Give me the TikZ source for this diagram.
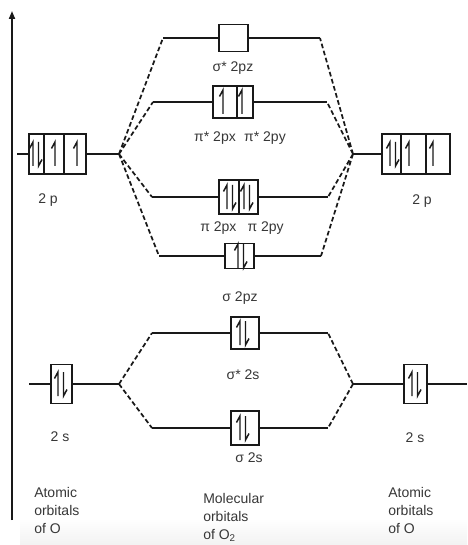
\documentclass[tikz,border=0pt]{standalone}
\usepackage{fontspec}
\setmainfont{Liberation Sans}
\usetikzlibrary{arrows.meta}
\definecolor{ink}{RGB}{25,25,25}
\definecolor{txt}{RGB}{55,55,55}
\begin{document}
\begin{tikzpicture}[x=0.75pt,y=-0.75pt,
 ln/.style={draw=ink,line width=1.3pt},
 dl/.style={draw=ink,line width=1.3pt,dash pattern=on 3.5pt off 2pt},
 obox/.style={draw=ink,line width=1.3pt,rectangle,inner sep=0pt,outer sep=0pt},
 bx/.style n args={2}{minimum width=#1*0.75pt,minimum height=#2*0.75pt},
 lab/.style={text=txt,font=\fontsize{10.5}{13}\selectfont,inner sep=0pt},
 eup/.pic={\draw[ink,line width=1.1pt] (0,12)--(0,-12)--(-3.5,-5.5);},
 edn/.pic={\draw[ink,line width=1.1pt] (0,-12)--(0,12)--(3.5,5.5);},
]
\useasboundingbox (0,0) rectangle (467,545);
\fill[white] (0,0) rectangle (467,545);
\shade[top color=white,bottom color=gray!10] (20,518) rectangle (467,545);

% axis
\coordinate (ax0) at (12,520);
\coordinate (ax1) at (12,11);
\draw[ink,line width=1.3pt,-{Triangle[length=6pt,width=4.5pt]}] (ax0) -- (ax1);

% junctions
\coordinate (Lj) at (119,154);
\coordinate (Rj) at (353,154);
\coordinate (Ls) at (119,384);
\coordinate (Rs) at (353,384);

% level end points
\coordinate (a1l) at (163,38);  \coordinate (a1r) at (320,38);
\coordinate (a2l) at (153,102); \coordinate (a2r) at (327,102);
\coordinate (a3l) at (152,197); \coordinate (a3r) at (328,197);
\coordinate (a4l) at (159,256); \coordinate (a4r) at (321,256);
\coordinate (b1l) at (152,333); \coordinate (b1r) at (328,333);
\coordinate (b2l) at (152,428); \coordinate (b2r) at (328,428);
\coordinate (Lst) at (17,154);
\coordinate (Lss) at (29,384);
\coordinate (Rse) at (467,384);

% boxes
\node[obox,bx={57}{40}] (L2p) at (57.5,154) {};
\node[obox,bx={68}{40}] (R2p) at (416,154) {};
\node[obox,bx={29}{27}] (SPZs) at (233.5,38) {};
\node[obox,bx={40}{32}] (PIs) at (233,102) {};
\node[obox,bx={39}{34}] (PI) at (238.5,197) {};
\node[obox,bx={29}{25}] (SPZ) at (239.5,256) {};
\node[obox,bx={28}{32}] (SSs) at (245,333) {};
\node[obox,bx={28}{34}] (SS) at (245,428) {};
\node[obox,bx={21}{39}] (L2s) at (61.5,384) {};
\node[obox,bx={23}{39}] (R2s) at (415.5,384) {};

% dividers
\draw[ink,line width=1.3pt] (44,134)--(44,174) (64,134)--(64,174);
\draw[ink,line width=1.3pt] (401,134)--(401,174) (426,134)--(426,174);
\draw[ink,line width=1.3pt] (237,86)--(237,118);
\draw[ink,line width=1.3pt] (239,180)--(239,214);

% solid lines
\draw[ln] (Lst) -- (L2p.west) (L2p.east) -- (Lj);
\draw[ln] (Rj) -- (R2p.west);
\draw[ln] (a1l) -- (SPZs.west) (SPZs.east) -- (a1r);
\draw[ln] (a2l) -- (PIs.west) (PIs.east) -- (a2r);
\draw[ln] (a3l) -- (PI.west) (PI.east) -- (a3r);
\draw[ln] (a4l) -- (SPZ.west) (SPZ.east) -- (a4r);
\draw[ln] (b1l) -- (SSs.west) (SSs.east) -- (b1r);
\draw[ln] (b2l) -- (SS.west) (SS.east) -- (b2r);
\draw[ln] (Lss) -- (L2s.west) (L2s.east) -- (Ls);
\draw[ln] (Rs) -- (R2s.west) (R2s.east) -- (Rse);

% dashed correlation lines
\draw[dl] (Lj) -- (a1l) (Lj) -- (a2l) (Lj) -- (a3l) (Lj) -- (a4l);
\draw[dl] (Rj) -- (a1r) (Rj) -- (a2r) (Rj) -- (a3r) (Rj) -- (a4r);
\draw[dl] (Ls) -- (b1l) (Ls) -- (b2l);
\draw[dl] (Rs) -- (b1r) (Rs) -- (b2r);

% electrons
\pic at (33,154) {eup}; \pic at (38.5,154) {edn};
\pic at (55,154) {eup}; \pic at (77,154) {eup};
\pic at (390,154) {eup}; \pic at (395.5,154) {edn};
\pic at (409,154) {eup}; \pic at (433,154) {eup};
\pic at (223,102) {eup}; \pic at (242,102) {eup};
\pic at (227,197) {eup}; \pic at (232.5,197) {edn};
\pic at (244,197) {eup}; \pic at (249.5,197) {edn};
\pic at (238,256) {eup}; \pic at (243.5,256) {edn};
\pic at (240,333) {eup}; \pic at (245.5,333) {edn};
\pic at (240,428) {eup}; \pic at (245.5,428) {edn};
\pic at (58,384) {eup}; \pic at (63.5,384) {edn};
\pic at (412,384) {eup}; \pic at (417.5,384) {edn};

% labels
\node[lab] (t2pl) at (48,200) {2 p};
\node[lab] (t2pr) at (422,201) {2 p};
\node[lab] (tspzs) at (233,68) {σ* 2pz};
\node[lab] (tpis) at (240,138) {π* 2px\hspace{0.6em}π* 2py};
\node[lab] (tpi) at (242,228) {π 2px\hspace{0.8em}π 2py};
\node[lab] (tspz) at (240,298) {σ 2pz};
\node[lab] (tsss) at (243,375) {σ* 2s};
\node[lab] (tss) at (249,458) {σ 2s};
\node[lab] (t2sl) at (60,437) {2 s};
\node[lab] (t2sr) at (415,438) {2 s};

\node[lab,anchor=base west] (la1) at (34,497) {Atomic};
\node[lab,anchor=base west] (la2) at (34,515) {orbitals};
\node[lab,anchor=base west] (la3) at (34,533) {of O};
\node[lab,anchor=base west] (ma1) at (203,503) {Molecular};
\node[lab,anchor=base west] (ma2) at (203,521) {orbitals};
\node[lab,anchor=base west] (ma3) at (203,539) {of O\textsubscript{2}};
\node[lab,anchor=base west] (ra1) at (388,497) {Atomic};
\node[lab,anchor=base west] (ra2) at (388,515) {orbitals};
\node[lab,anchor=base west] (ra3) at (388,533) {of O};
\end{tikzpicture}
\end{document}
